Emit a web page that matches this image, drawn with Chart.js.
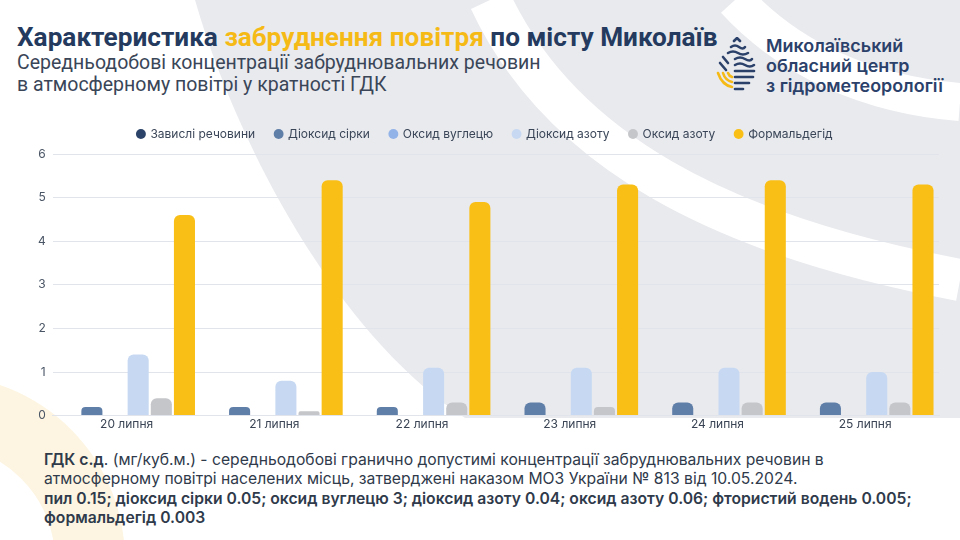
<!DOCTYPE html>
<html lang="uk">
<head>
<meta charset="utf-8">
<title>Характеристика забруднення повітря по місту Миколаїв</title>
<script src="https://cdn.jsdelivr.net/npm/chart.js@4.4.1/dist/chart.umd.min.js"></script>
<style>
  html, body { margin: 0; padding: 0; }
  body { width: 960px; height: 540px; position: relative; overflow: hidden; background: #ffffff; font-family: Inter, "Noto Sans", sans-serif; }
  #bg { position: absolute; left: 0; top: 0; }
  .title { position: absolute; left: 17px; top: 22px; font-family: Roboto, sans-serif; font-weight: 700; font-size: 26.2px; color: #243a5e; white-space: nowrap; }
  .title .accent { color: #f6ba17; }
  .subtitle { position: absolute; left: 17px; top: 52px; font-family: Roboto, sans-serif; font-size: 19.5px; line-height: 22px; color: #3a4658; white-space: nowrap; }
  .logo-text { position: absolute; left: 766px; top: 36px; font-family: Inter, sans-serif; font-weight: 600; font-size: 17.9px; line-height: 20px; color: #2b416a; white-space: nowrap; }
  #logo { position: absolute; left: 714px; top: 37px; }
  .chart-box { position: absolute; left: 0; top: 106px; width: 960px; height: 336px; }
  .note { position: absolute; left: 44px; top: 450px; font-size: 15.7px; line-height: 19.3px; color: #2f3a4b; white-space: nowrap; }
  .note b { font-weight: 600; }
</style>
</head>
<body>
<svg id="bg" width="960" height="540" viewBox="0 0 960 540">
  <path d="M 195 0 C 232 130 330 330 465 418 L 960 418 L 960 0 Z" fill="#e9eaee"/>
  <path d="M 490 0 C 560 150 720 235 960 280" fill="none" stroke="#ffffff" stroke-width="42"/>
  <path d="M 735 0 C 790 60 870 95 960 102" fill="none" stroke="#ffffff" stroke-width="38"/>
  <circle cx="-60" cy="560" r="150" fill="none" stroke="#fdf5e1" stroke-width="70"/>
</svg>

<div class="title">Характеристика <span class="accent">забруднення повітря</span> по місту Миколаїв</div>
<div class="subtitle">Середньодобові концентрації забруднювальних речовин<br>в атмосферному повітрі у кратності ГДК</div>

<svg id="logo" width="46" height="56" viewBox="0 0 46 56">
  <g stroke="#2b416a" stroke-width="2.6" fill="none" stroke-linecap="round">
    <path d="M 20 4 L 23 1 L 26 4"/>
    <path d="M 17 10 Q 21 7 25 10 T 31 10"/>
    <path d="M 14 16 Q 19 13 24 16 T 34 16"/>
    <path d="M 21 22 Q 26 19 31 22 T 38 22"/>
    <path d="M 21 28 Q 26 25 31 28 T 40 28"/>
    <path d="M 21 34 L 40 34"/>
    <path d="M 21 40 L 39 40"/>
    <path d="M 21 46 L 35 46"/>
    <path d="M 21 52 L 29 52"/>
    <path d="M 9 20 L 14 26"/>
    <path d="M 6 26 L 12 33"/>
  </g>
  <g stroke="#f6ba17" stroke-width="2.6" fill="none" stroke-linecap="round">
    <path d="M 4 36 Q 8 48 18 50"/>
    <path d="M 9 36 Q 11 43 18 45"/>
    <path d="M 14 36 Q 15 39 18 40"/>
  </g>
</svg>
<div class="logo-text">Миколаївський<br>обласний центр<br>з гідрометеорології</div>

<div class="chart-box"><canvas id="chart" width="960" height="336"></canvas></div>

<div class="note"><b>ГДК с.д</b>. (мг/куб.м.) - середньодобові гранично допустимі концентрації забруднювальних речовин в<br>атмосферному повітрі населених місць, затверджені наказом МОЗ України № 813 від 10.05.2024.<br><b>пил 0.15; діоксид сірки 0.05; оксид вуглецю 3; діоксид азоту 0.04; оксид азоту 0.06; фтористий водень 0.005;<br>формальдегід 0.003</b></div>

<script>
// days on the x axis
const days = ['20 липня', '21 липня', '22 липня', '23 липня', '24 липня', '25 липня'];

// pollutant names (legend order)
const pollutants = ['Завислі речовини', 'Діоксид сірки', 'Оксид вуглецю', 'Діоксид азоту', 'Оксид азоту', 'Формальдегід'];
const pollutantColors = ['#2b4369', '#5f7ea8', '#92b3e8', '#c7d9f2', '#c5c6c9', '#f9bf17'];

// daily average concentration, in multiples of the limit (ГДК)
const suspended = [0, 0, 0, 0, 0, 0];
const sulfurDioxide = [0.2, 0.2, 0.2, 0.3, 0.3, 0.3];
const carbonMonoxide = [0, 0, 0, 0, 0, 0];
const nitrogenDioxide = [1.4, 0.8, 1.1, 1.1, 1.1, 1.0];
const nitrogenOxide = [0.4, 0.1, 0.3, 0.2, 0.3, 0.3];
const formaldehyde = [4.6, 5.4, 4.9, 5.3, 5.4, 5.3];

const yMin = 0;
const yMax = 6;
const yStep = 1;

const series = [suspended, sulfurDioxide, carbonMonoxide, nitrogenDioxide, nitrogenOxide, formaldehyde];

// a bit more room between the legend and the plot
const legendGap = {
  id: 'legendGap',
  beforeInit(chart) {
    const fit = chart.legend.fit;
    chart.legend.fit = function () {
      fit.bind(chart.legend)();
      this.height += 4;
    };
  }
};

const ctx = document.getElementById('chart');

new Chart(ctx, {
  type: 'bar',
  data: {
    labels: days,
    datasets: series.map((values, i) => ({
      label: pollutants[i],
      data: values,
      backgroundColor: pollutantColors[i],
      borderRadius: { topLeft: 6, topRight: 6 },
      borderSkipped: 'bottom',
      categoryPercentage: 0.94,
      barPercentage: 0.91
    }))
  },
  options: {
    responsive: false,
    animation: false,
    layout: { padding: { left: 31, right: 21, top: 2, bottom: 8 } },
    plugins: {
      tooltip: { enabled: false },
      legend: {
        position: 'top',
        labels: {
          usePointStyle: true,
          pointStyle: 'circle',
          boxWidth: 7,
          boxHeight: 7,
          padding: 20,
          color: '#3a4658',
          font: { family: 'Inter', size: 12 }
        }
      }
    },
    scales: {
      x: {
        grid: { display: false, drawTicks: false },
        border: { color: '#e1e4ea' },
        ticks: { color: '#3a4454', font: { family: 'Inter', size: 12 }, padding: 2 }
      },
      y: {
        min: yMin,
        max: yMax,
        ticks: { stepSize: yStep, color: '#4a5565', font: { family: 'Inter', size: 12 }, padding: 7 },
        grid: { color: '#e1e4ea', drawTicks: false },
        border: { display: false }
      }
    }
  },
  plugins: [legendGap]
});
</script>
</body>
</html>
